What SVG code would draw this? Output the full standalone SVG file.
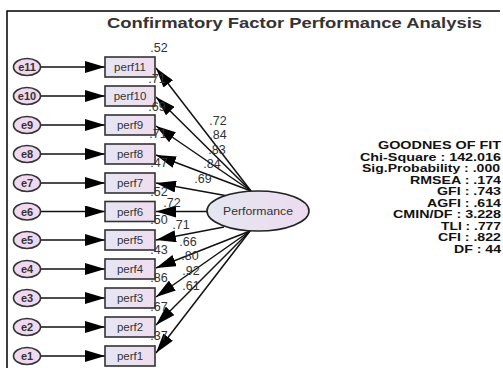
<svg xmlns="http://www.w3.org/2000/svg" width="503" height="368" viewBox="0 0 503 368">
<defs>
<linearGradient id="gr" x1="0" y1="0" x2="1" y2="0">
<stop offset="0" stop-color="#e6e6f2"/>
<stop offset="1" stop-color="#efdcef"/>
</linearGradient>
<linearGradient id="ge" x1="0" y1="0" x2="1" y2="0">
<stop offset="0" stop-color="#e4e7f1"/>
<stop offset="1" stop-color="#eddbf0"/>
</linearGradient>
<marker id="ah" viewBox="0 0 20 12" markerWidth="20" markerHeight="12" refX="20" refY="6" orient="auto" markerUnits="userSpaceOnUse">
<path d="M0,0 L20,6 L0,12 z" fill="#000"/>
</marker>
</defs>
<style>
.t{font-family:"Liberation Sans",Arial,sans-serif;fill:#333}
.lab{font-size:12.5px;text-anchor:middle}
.e{font-size:11px;font-weight:bold;text-anchor:middle}
.p{font-size:11.5px;text-anchor:middle}
.fit{font-size:11.5px;font-weight:bold;text-anchor:end;fill:#111}
.err{fill:#f0d9f0;stroke:#333;stroke-width:1.6}
.box{fill:url(#gr);stroke:#333;stroke-width:1.6}
.c{stroke:#111;stroke-width:1.5;fill:none;marker-end:url(#ah)}
</style>
<rect width="503" height="368" fill="#fff"/>
<path d="M7,368 V11 H500" fill="none" stroke="#000" stroke-width="1.5"/>
<text class="t" x="107" y="28" font-size="15" font-weight="bold" fill="#111" textLength="375" lengthAdjust="spacingAndGlyphs">Confirmatory Factor Performance Analysis</text>

<g id="connectors">
<line class="c" x1="40" y1="67" x2="105" y2="67"/>
<line class="c" x1="40" y1="96" x2="105" y2="96"/>
<line class="c" x1="40" y1="125" x2="105" y2="125"/>
<line class="c" x1="40" y1="154" x2="105" y2="154"/>
<line class="c" x1="40" y1="183" x2="105" y2="183"/>
<line class="c" x1="40" y1="211.5" x2="105" y2="211.5"/>
<line class="c" x1="40" y1="240" x2="105" y2="240"/>
<line class="c" x1="40" y1="269" x2="105" y2="269"/>
<line class="c" x1="40" y1="298" x2="105" y2="298"/>
<line class="c" x1="40" y1="327" x2="105" y2="327"/>
<line class="c" x1="40" y1="356" x2="105" y2="356"/>
<line class="c" x1="251" y1="191" x2="156" y2="68"/>
<line class="c" x1="251" y1="191" x2="156" y2="97"/>
<line class="c" x1="251" y1="191" x2="156" y2="126"/>
<line class="c" x1="251" y1="191" x2="156" y2="155"/>
<line class="c" x1="228" y1="196" x2="156" y2="183"/>
<line class="c" x1="207" y1="211.5" x2="156" y2="211.5"/>
<line class="c" x1="224" y1="227" x2="156" y2="240"/>
<line class="c" x1="250" y1="231" x2="156" y2="268"/>
<line class="c" x1="250" y1="231" x2="156" y2="297"/>
<line class="c" x1="250" y1="231" x2="156" y2="325"/>
<line class="c" x1="250" y1="231" x2="156" y2="353"/>
</g>

<g id="e11"><ellipse class="err" cx="27" cy="67" rx="13.5" ry="8.5"/><text class="t e" x="27" y="71">e11</text></g>
<g id="e10"><ellipse class="err" cx="27" cy="96" rx="13.5" ry="8.5"/><text class="t e" x="27" y="100">e10</text></g>
<g id="e9"><ellipse class="err" cx="27" cy="125" rx="13.5" ry="8.5"/><text class="t e" x="27" y="129">e9</text></g>
<g id="e8"><ellipse class="err" cx="27" cy="154" rx="13.5" ry="8.5"/><text class="t e" x="27" y="158">e8</text></g>
<g id="e7"><ellipse class="err" cx="27" cy="183" rx="13.5" ry="8.5"/><text class="t e" x="27" y="187">e7</text></g>
<g id="e6"><ellipse class="err" cx="27" cy="211.5" rx="13.5" ry="8.5"/><text class="t e" x="27" y="215.5">e6</text></g>
<g id="e5"><ellipse class="err" cx="27" cy="240" rx="13.5" ry="8.5"/><text class="t e" x="27" y="244">e5</text></g>
<g id="e4"><ellipse class="err" cx="27" cy="269" rx="13.5" ry="8.5"/><text class="t e" x="27" y="273">e4</text></g>
<g id="e3"><ellipse class="err" cx="27" cy="298" rx="13.5" ry="8.5"/><text class="t e" x="27" y="302">e3</text></g>
<g id="e2"><ellipse class="err" cx="27" cy="327" rx="13.5" ry="8.5"/><text class="t e" x="27" y="331">e2</text></g>
<g id="e1"><ellipse class="err" cx="27" cy="356" rx="13.5" ry="8.5"/><text class="t e" x="27" y="360">e1</text></g>

<g id="perf11"><rect class="box" x="105" y="57" width="50" height="20"/><text class="t p" x="130" y="71">perf11</text></g>
<g id="perf10"><rect class="box" x="105" y="86" width="50" height="20"/><text class="t p" x="130" y="100">perf10</text></g>
<g id="perf9"><rect class="box" x="105" y="115" width="50" height="20"/><text class="t p" x="130" y="129">perf9</text></g>
<g id="perf8"><rect class="box" x="105" y="144" width="50" height="20"/><text class="t p" x="130" y="158">perf8</text></g>
<g id="perf7"><rect class="box" x="105" y="173" width="50" height="20"/><text class="t p" x="130" y="187">perf7</text></g>
<g id="perf6"><rect class="box" x="105" y="201.5" width="50" height="20"/><text class="t p" x="130" y="215.5">perf6</text></g>
<g id="perf5"><rect class="box" x="105" y="230" width="50" height="20"/><text class="t p" x="130" y="244">perf5</text></g>
<g id="perf4"><rect class="box" x="105" y="259" width="50" height="20"/><text class="t p" x="130" y="273">perf4</text></g>
<g id="perf3"><rect class="box" x="105" y="288" width="50" height="20"/><text class="t p" x="130" y="302">perf3</text></g>
<g id="perf2"><rect class="box" x="105" y="317" width="50" height="20"/><text class="t p" x="130" y="331">perf2</text></g>
<g id="perf1"><rect class="box" x="105" y="346" width="50" height="20"/><text class="t p" x="130" y="360">perf1</text></g>

<g id="Performance"><ellipse cx="258" cy="211" rx="51" ry="20" fill="url(#ge)" stroke="#222" stroke-width="1.6"/><text class="t" x="258" y="215" font-size="11.5" text-anchor="middle" textLength="70" lengthAdjust="spacingAndGlyphs">Performance</text></g>

<g id="labels">
<text class="t lab" x="159" y="52">.52</text>
<text class="t lab" x="157" y="83">.71</text>
<text class="t lab" x="157" y="111">.69</text>
<text class="t lab" x="158" y="138">.71</text>
<text class="t lab" x="159" y="167">.47</text>
<text class="t lab" x="159" y="196">.52</text>
<text class="t lab" x="159" y="224">.50</text>
<text class="t lab" x="159" y="254">.43</text>
<text class="t lab" x="159" y="282">.86</text>
<text class="t lab" x="159" y="311">.67</text>
<text class="t lab" x="159" y="340">.37</text>
<text class="t lab" x="218" y="125">.72</text>
<text class="t lab" x="218" y="139">.84</text>
<text class="t lab" x="217" y="154">.83</text>
<text class="t lab" x="212" y="168">.84</text>
<text class="t lab" x="203" y="183">.69</text>
<text class="t lab" x="172" y="207">.72</text>
<text class="t lab" x="181" y="229">.71</text>
<text class="t lab" x="188" y="246">.66</text>
<text class="t lab" x="190" y="260">.80</text>
<text class="t lab" x="191" y="275">.92</text>
<text class="t lab" x="191" y="290">.61</text>
</g>

<g id="fit">
<text class="t fit" x="501" y="149" textLength="123" lengthAdjust="spacingAndGlyphs">GOODNES OF FIT</text>
<text class="t fit" x="501" y="160.5" textLength="141" lengthAdjust="spacingAndGlyphs">Chi-Square : 142.016</text>
<text class="t fit" x="500" y="172" textLength="138" lengthAdjust="spacingAndGlyphs">Sig.Probability : .000</text>
<text class="t fit" x="501" y="183.5" textLength="91" lengthAdjust="spacingAndGlyphs">RMSEA : .174</text>
<text class="t fit" x="501" y="195" textLength="64" lengthAdjust="spacingAndGlyphs">GFI : .743</text>
<text class="t fit" x="501" y="206.5" textLength="74" lengthAdjust="spacingAndGlyphs">AGFI : .614</text>
<text class="t fit" x="501" y="218" textLength="108" lengthAdjust="spacingAndGlyphs">CMIN/DF : 3.228</text>
<text class="t fit" x="501" y="229.5" textLength="60" lengthAdjust="spacingAndGlyphs">TLI : .777</text>
<text class="t fit" x="501" y="241" textLength="63" lengthAdjust="spacingAndGlyphs">CFI : .822</text>
<text class="t fit" x="501" y="252.5" textLength="47" lengthAdjust="spacingAndGlyphs">DF : 44</text>
</g>
</svg>
